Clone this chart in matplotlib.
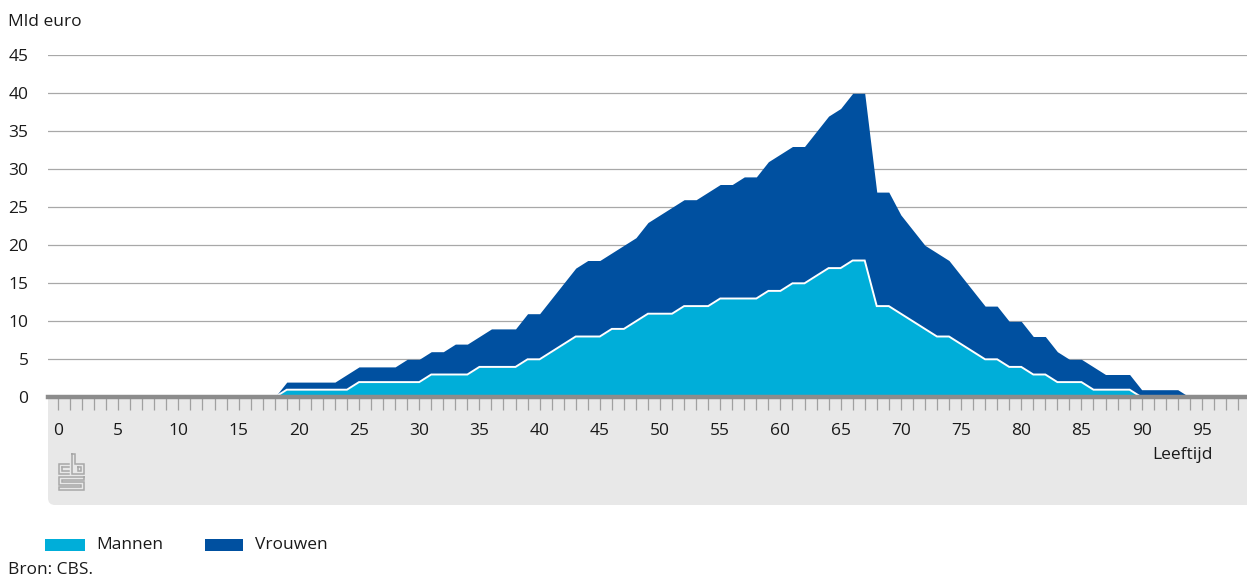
import matplotlib
matplotlib.use('Agg')
import matplotlib.pyplot as plt
import numpy as np
from matplotlib.patches import FancyBboxPatch, Rectangle
from matplotlib.lines import Line2D
from matplotlib.transforms import IdentityTransform

plt.rcParams['font.family'] = ['Open Sans', 'DejaVu Sans']

# Leeftijd 18 t/m 94, bedragen in mld euro
ages = list(range(18, 95))
mannen = [0, 1, 1, 1, 1, 1, 1, 2, 2, 2, 2, 2, 2, 3, 3, 3, 3, 4, 4, 4,
          4, 5, 5, 6, 7, 8, 8, 8, 9, 9, 10, 11, 11, 11, 12, 12, 12, 13, 13, 13,
          13, 14, 14, 15, 15, 16, 17, 17, 18, 18, 12, 12, 11, 10, 9, 8, 8, 7, 6, 5,
          5, 4, 4, 3, 3, 2, 2, 2, 1, 1, 1, 1, 0, 0, 0, 0, 0]
vrouwen = [0, 1, 1, 1, 1, 1, 2, 2, 2, 2, 2, 3, 3, 3, 3, 4, 4, 4, 5, 5,
           5, 6, 6, 7, 8, 9, 10, 10, 10, 11, 11, 12, 13, 14, 14, 14, 15, 15, 15, 16,
           16, 17, 18, 18, 18, 19, 20, 21, 22, 22, 15, 15, 13, 12, 11, 11, 10, 9, 8, 7,
           7, 6, 6, 5, 5, 4, 3, 3, 3, 2, 2, 2, 1, 1, 1, 1, 0]

y_ticks = [0, 5, 10, 15, 20, 25, 30, 35, 40, 45]
x_ticks = list(range(0, 100, 5))

LIGHT = '#00aed9'
DARK = '#0050a0'
GRID = '#a8a8a8'
AXIS = '#8c8c8c'
TXT = '#1a1a1a'
FS = 12.5

W, H = 1247, 583
fig = plt.figure(figsize=(W / 100, H / 100), dpi=100)

# grey band under the x axis, rounded at bottom left
band = FancyBboxPatch((48, H - 505), 1300, 125,
                      boxstyle='round,pad=0,rounding_size=7',
                      transform=IdentityTransform(), facecolor='#e8e8e8',
                      edgecolor='none', zorder=-1)
fig.add_artist(band)

ax = fig.add_axes([48 / W, 1 - 397.3 / H, (W - 48) / W, (397.3 - 55.3) / H])
ax.set_xlim(-0.83, 98.75)
ax.set_ylim(0, 45)

m = np.array(mannen)
tot = m + np.array(vrouwen)
ax.fill_between(ages, 0, tot, color=DARK, linewidth=0, zorder=2)
ax.fill_between(ages, 0, m, color=LIGHT, linewidth=0, zorder=3)
last = int(np.nonzero(m)[0][-1]) + 2
ax.plot(ages[:last], m[:last], color='white', linewidth=1.4, zorder=4,
        solid_joinstyle='miter')

ax.set_yticks(y_ticks)
ax.set_yticklabels([str(v) for v in y_ticks])
ax.yaxis.grid(True, color=GRID, linewidth=0.9)
ax.set_axisbelow(True)
ax.axhline(0, color=AXIS, linewidth=3.2, zorder=5, clip_on=False)

ax.set_xticks(x_ticks)
ax.set_xticklabels([str(v) for v in x_ticks])
ax.set_xticks(range(0, 99), minor=True)
ax.tick_params(axis='x', which='both', direction='out', length=9.5, width=0.9,
               color='#a0a0a0', pad=9, labelsize=FS, labelcolor=TXT)
ax.tick_params(axis='y', length=0, pad=14, labelsize=FS, labelcolor=TXT)
for lab in ax.get_yticklabels():
    lab.set_horizontalalignment('right')
for s in ax.spines.values():
    s.set_visible(False)

fig.text(8 / W, 1 - 22 / H, 'Mld euro', fontsize=FS, color=TXT, va='center', ha='left')
fig.text(1213 / W, 1 - 455 / H, 'Leeftijd', fontsize=FS, color=TXT, va='center', ha='right')

# cbs logo
logo = fig.add_axes([58 / W, 1 - 491 / H, 27 / W, 38 / H])
logo.set_xlim(0, 27)
logo.set_ylim(38, 0)
logo.axis('off')
lc = '#a8a8a8'
lw = 1.1
paths = [
    [(11, 11), (1, 11), (1, 21), (11, 21)],
    [(4, 14), (11, 14)], [(4, 14), (4, 18), (11, 18)],
    [(14, 1), (14, 21), (26, 21), (26, 11), (17, 11), (17, 1), (14, 1)],
    [(20, 14), (23, 14), (23, 18), (20, 18), (20, 14)],
    [(26, 24), (1, 24), (1, 32), (23, 32), (23, 34), (1, 34), (1, 37), (26, 37),
     (26, 29), (4, 29), (4, 27), (26, 27), (26, 24)],
]
for p in paths:
    xs, ys = zip(*p)
    logo.add_line(Line2D(xs, ys, color=lc, linewidth=lw, solid_joinstyle='miter'))

# legend
fig.add_artist(Rectangle((45, H - 551), 40, 12, transform=IdentityTransform(),
                         facecolor=LIGHT, edgecolor='none'))
fig.text(96 / W, 1 - 545 / H, 'Mannen', fontsize=FS, color=TXT, va='center', ha='left')
fig.add_artist(Rectangle((205, H - 551), 38, 12, transform=IdentityTransform(),
                         facecolor=DARK, edgecolor='none'))
fig.text(255 / W, 1 - 545 / H, 'Vrouwen', fontsize=FS, color=TXT, va='center', ha='left')

fig.text(8 / W, 1 - 570 / H, 'Bron: CBS.', fontsize=FS, color=TXT, va='center', ha='left')

fig.savefig('out.png', dpi=100)
